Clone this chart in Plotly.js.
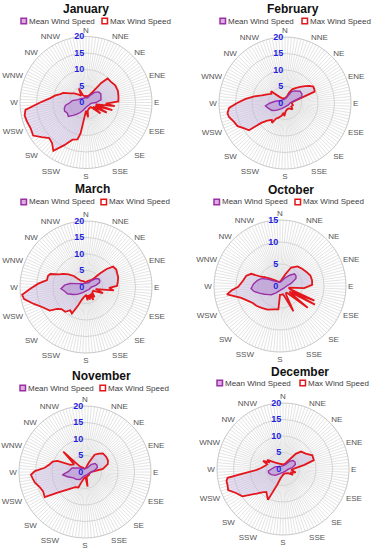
<!DOCTYPE html>
<html>
<head>
<meta charset="utf-8">
<script src="https://cdn.plot.ly/plotly-3.0.1.min.js"></script>
<style>html,body{margin:0;padding:0;background:#fff;}#chart{width:371px;height:550px;}</style>
</head>
<body>
<div id="chart"></div>
<script>
// ---------- DATA ----------
const months = ["January", "February", "March", "October", "November", "December"];
const seriesNames = ["Mean Wind Speed", "Max Wind Speed"];
const directions = ["N","NNE","NE","ENE","E","ESE","SE","SSE","S","SSW","SW","WSW","W","WNW","NW","NNW"];
const radialTicks20 = [0, 5, 10, 15, 20];
const radialTicks15 = [0, 5, 10, 15];

const janMaxTheta = [0,15,25,33,38,42,50,60,70,80,88,93,97,101,106,110,116,121,127,133,150,168,172,180,190,193,200,207,214,220,226,232,238,245,252,258,263,270,277,283,288,293,300,308,315,325,333,337,345];
const janMaxR     = [2,2,2.5,4,7.5,9.8,9.8,10.3,10.3,10,9.8,6,8.8,3,8.3,3,7,2.5,5.5,2,2,2.5,4.5,2.5,9.5,11.5,12,14.5,17.7,16,15.5,17,18.9,18.5,18.8,19,18.5,13.9,10.9,9.5,8.2,7.5,5.5,4.5,3.5,2.5,4.8,2.5,2];
const janMeanTheta = [0,20,30,40,50,60,70,80,90,100,130,160,190,200,210,218,225,232,240,248,255,262,270,278,290,305,330];
const janMeanR     = [1.5,1.5,2.5,4,5,5.2,4.8,4.6,3,1.5,1.2,1.2,1.8,2.5,3.5,4.5,5.5,6.8,6.5,7,6.8,6.3,4.8,4.2,2.5,2,1.5];

const febMaxTheta = [0,15,22,28,35,43,50,55,60,65,69,73,80,90,105,120,130,145,160,175,183,188,195,205,210,213,218,225,230,233,238,244,250,256,260,265,270,276,282,288,296,304,310,318,335,350];
const febMaxR     = [1.5,2,3.5,4.7,5.5,6.7,8,9,9.9,9.8,9.6,5,2.5,2,2.5,2.2,3,2,2,2.5,4,3,4,5,5.5,7.2,6.5,7.6,9.4,13.7,14.5,16,16.5,17.5,17.7,17,14.5,12,9.5,7.4,6,5,5.5,2.5,1.5,1.5];
const febMeanTheta = [0,20,30,40,52,62,70,75,90,120,180,210,230,240,248,255,262,270,280,300,330];
const febMeanR     = [1.2,2,4,4.8,5.8,5.8,5.4,3.2,1.5,1.2,1.2,2,3.5,4.5,5,5.5,6,4.5,3,1.5,1.2];

const marMaxTheta = [0,20,35,42,46,49,53,60,67,73,80,88,92,97,102,110,118,130,140,145,150,156,162,167,173,180,190,198,203,208,214,220,228,233,237,245,252,259,263,268,274,280,286,290,295,300,306,312,320,335,350];
const marMaxR     = [1.5,2,2.5,3.5,6,8.3,10.3,10.6,10.3,10.2,9.8,9.4,7,8.5,3,5.5,2.5,2.5,4,2.5,4.5,2.5,4,2.5,4,2.5,3,4,6,9.1,8.5,9.8,10,11,13.1,14.5,16.6,19.1,19.5,17,14.5,12,12,11.5,9,8,6.5,5,2.5,2,1.5];
const marMeanTheta = [0,30,40,50,58,65,72,80,95,130,180,210,230,240,250,258,266,275,282,290,310,340];
const marMeanR     = [1.2,1.5,2.5,4,4.6,4.6,4.3,3,1.5,1.2,1.2,2,3.5,4.5,6,6.5,7.6,6.5,5,3,1.5,1.2];

const octMaxTheta = [0,15,25,31,42,53,62,71,80,88,95,100,108,113,116,118,121,124,128,133,137,145,152,157,160,170,180,184,195,208,220,230,238,245,253,261,265,269,278,287,293,296,300,307,320,340];
const octMaxR     = [1,1.5,3,4.9,6,6.4,6.8,7.3,7.4,7.3,5.5,2,2.5,8.5,3,9,2.5,3,8,2.5,2,2.5,6.5,2.5,2,2,2,5.3,5.5,6.1,6.5,7,7.3,8,9.2,12.2,11,9.5,8.5,8,7.1,4.8,4,2.8,1.7,1];
const octMeanTheta = [0,30,42,50,58,65,77,90,120,180,210,225,232,242,251,258,265,275,284,293,300,315,340];
const octMeanR     = [0.8,2,3.3,4.3,4.3,4,2.6,1.5,1,1,1.8,2.8,3.2,4,5,6,6.6,6,5.3,4.4,3,1.5,1];

const novMaxTheta = [0,15,22,29,37,44,54,63,71,80,88,100,130,160,170,175,190,200,203,213,223,233,238,245,252,258,263,267,271,276,282,288,292,296,305,310,313,316,320,335,350];
const novMaxR     = [1,1.5,3,6,7,7.8,7.9,7.8,7.3,5.5,2,1.5,1.5,1.5,4.5,1.5,2,3.5,5.1,5.5,7.1,10.4,14.4,14,14.5,15.5,16,16.4,15.2,12.3,11,10.3,9,4.9,4,6,9,3,2,1.5,1];
const novMeanTheta = [0,30,40,50,60,70,80,100,150,190,213,230,243,255,263,272,287,300,320,340];
const novMeanR     = [1,1.5,3,4,4.2,4,3,1.5,1,1.2,2.7,3.5,3.9,5.5,6.9,5,4.1,2.5,1.5,1];

const decMaxTheta = [0,15,25,35,40,46,56,65,74,79,85,95,105,115,120,130,150,170,185,195,200,206,216,222,227,236,243,249,254,258,261,264,268,272,280,287,292,296,300,310,325,345];
const decMaxR     = [1.5,1.5,2,3.5,6,7.6,8.3,9.8,9.7,6.6,4,2.5,4,2.5,3.5,2,1.5,1.5,2,3,5,10.4,8.6,9.5,10.9,14.8,16,17.8,17.5,17.5,17,11.4,8,6.8,5.5,5,6.5,4.5,5.5,3,2,1.5];
const decMeanTheta = [0,30,40,50,60,70,80,95,130,180,210,230,245,255,262,270,285,300,330];
const decMeanR     = [1,1.5,3,4,4.2,4,3,1.5,1,1,1.5,3,4,4.5,4.5,3.5,2.5,1.5,1];

// ---------- LAYOUT CONSTANTS ----------
const W = 371, H = 550, R = 66;
const panels = [
  {month: months[0], maxT: janMaxTheta, maxR: janMaxR, meanT: janMeanTheta, meanR: janMeanR, ticks: radialTicks20, cx: 86,  cy: 102.5, tx: 86,  ty: 9,   ly: 21,  l1: 21,  l2: 102},
  {month: months[1], maxT: febMaxTheta, maxR: febMaxR, meanT: febMeanTheta, meanR: febMeanR, ticks: radialTicks20, cx: 285, cy: 103,   tx: 293, ty: 9,   ly: 21,  l1: 220, l2: 302},
  {month: months[2], maxT: marMaxTheta, maxR: marMaxR, meanT: marMeanTheta, meanR: marMeanR, ticks: radialTicks20, cx: 86,  cy: 287,   tx: 92,  ty: 189, ly: 202, l1: 21,  l2: 101},
  {month: months[3], maxT: octMaxTheta, maxR: octMaxR, meanT: octMeanTheta, meanR: octMeanR, ticks: radialTicks15, cx: 280, cy: 286,   tx: 291, ty: 190, ly: 202, l1: 214, l2: 295},
  {month: months[4], maxT: novMaxTheta, maxR: novMaxR, meanT: novMeanTheta, meanR: novMeanR, ticks: radialTicks20, cx: 85,  cy: 472,   tx: 101, ty: 376, ly: 388, l1: 20,  l2: 100},
  {month: months[5], maxT: decMaxTheta, maxR: decMaxR, meanT: decMeanTheta, meanR: decMeanR, ticks: radialTicks20, cx: 283, cy: 469,   tx: 300, ty: 372, ly: 383, l1: 217, l2: 300}
];

const FONT = "Liberation Sans, Arial, sans-serif";
const MAX_LINE = "#e3161c", MAX_FILL = "rgba(196,178,224,0.42)";
const MEAN_LINE = "#9b30a6", MEAN_FILL = "rgba(160,100,200,0.35)";

// dense angular grid with compass labels every 8th spoke
const gridVals = [], gridText = [];
for (let i = 0; i < 128; i++) {
  gridVals.push(i * 360 / 128);
  gridText.push(i % 8 === 0 ? directions[i / 8] : "");
}

const px = x => x / W;
const py = y => 1 - y / H;

const data = [];
const layout = {
  width: W, height: H,
  margin: {l: 0, r: 0, t: 0, b: 0},
  paper_bgcolor: "#ffffff",
  showlegend: false,
  font: {family: FONT},
  annotations: [],
  shapes: []
};

panels.forEach((p, i) => {
  const key = i === 0 ? "polar" : "polar" + (i + 1);
  const close = (a) => a.concat([a[0]]);
  data.push({
    type: "scatterpolar", subplot: key, name: seriesNames[1],
    theta: close(p.maxT), r: close(p.maxR),
    mode: "lines", fill: "toself", fillcolor: MAX_FILL,
    line: {color: MAX_LINE, width: 1.8}, hoverinfo: "skip"
  });
  data.push({
    type: "scatterpolar", subplot: key, name: seriesNames[0],
    theta: close(p.meanT), r: close(p.meanR),
    mode: "lines", fill: "toself", fillcolor: MEAN_FILL,
    line: {color: MEAN_LINE, width: 1.4}, hoverinfo: "skip"
  });
  const rmax = p.ticks[p.ticks.length - 1];
  layout[key] = {
    domain: {x: [px(p.cx - R), px(p.cx + R)], y: [py(p.cy + R), py(p.cy - R)]},
    bgcolor: "rgba(0,0,0,0)",
    angularaxis: {
      rotation: 90, direction: "clockwise",
      tickmode: "array", tickvals: gridVals, ticktext: gridText,
      ticks: "", showline: true, linecolor: "#c9c9c9", linewidth: 1,
      gridcolor: "#e4e4e4", gridwidth: 1,
      tickfont: {family: FONT, size: 8, color: "#555555"}
    },
    radialaxis: {
      range: [0, rmax], tickmode: "array", tickvals: p.ticks,
      angle: 90, tickangle: 90, side: "counterclockwise",
      showline: false, ticks: "", gridcolor: "#d4d4d4", gridwidth: 1,
      tickfont: {family: FONT, size: 9, color: "#1f1fe0", weight: "bold"}
    }
  };
  layout.annotations.push({
    xref: "paper", yref: "paper", x: px(p.tx), y: py(p.ty),
    xanchor: "center", yanchor: "middle", showarrow: false,
    text: "<b>" + p.month + "</b>",
    font: {family: FONT, size: 12, color: "#111111"}
  });
  [[p.l1, seriesNames[0], MEAN_LINE, "#dcaee2"], [p.l2, seriesNames[1], MAX_LINE, "#ffffff"]].forEach(([lx, label, lc, fc]) => {
    layout.shapes.push({
      type: "rect", xref: "paper", yref: "paper",
      x0: px(lx), x1: px(lx + 5.5), y0: py(p.ly + 2.75), y1: py(p.ly - 2.75),
      line: {color: lc, width: 1.5}, fillcolor: fc
    });
    layout.annotations.push({
      xref: "paper", yref: "paper", x: px(lx + 6), y: py(p.ly),
      xanchor: "left", yanchor: "middle", showarrow: false,
      text: label, font: {family: FONT, size: 8, color: "#404040"}
    });
  });
});

Plotly.newPlot("chart", data, layout, {staticPlot: true, displayModeBar: false});
</script>
</body>
</html>
